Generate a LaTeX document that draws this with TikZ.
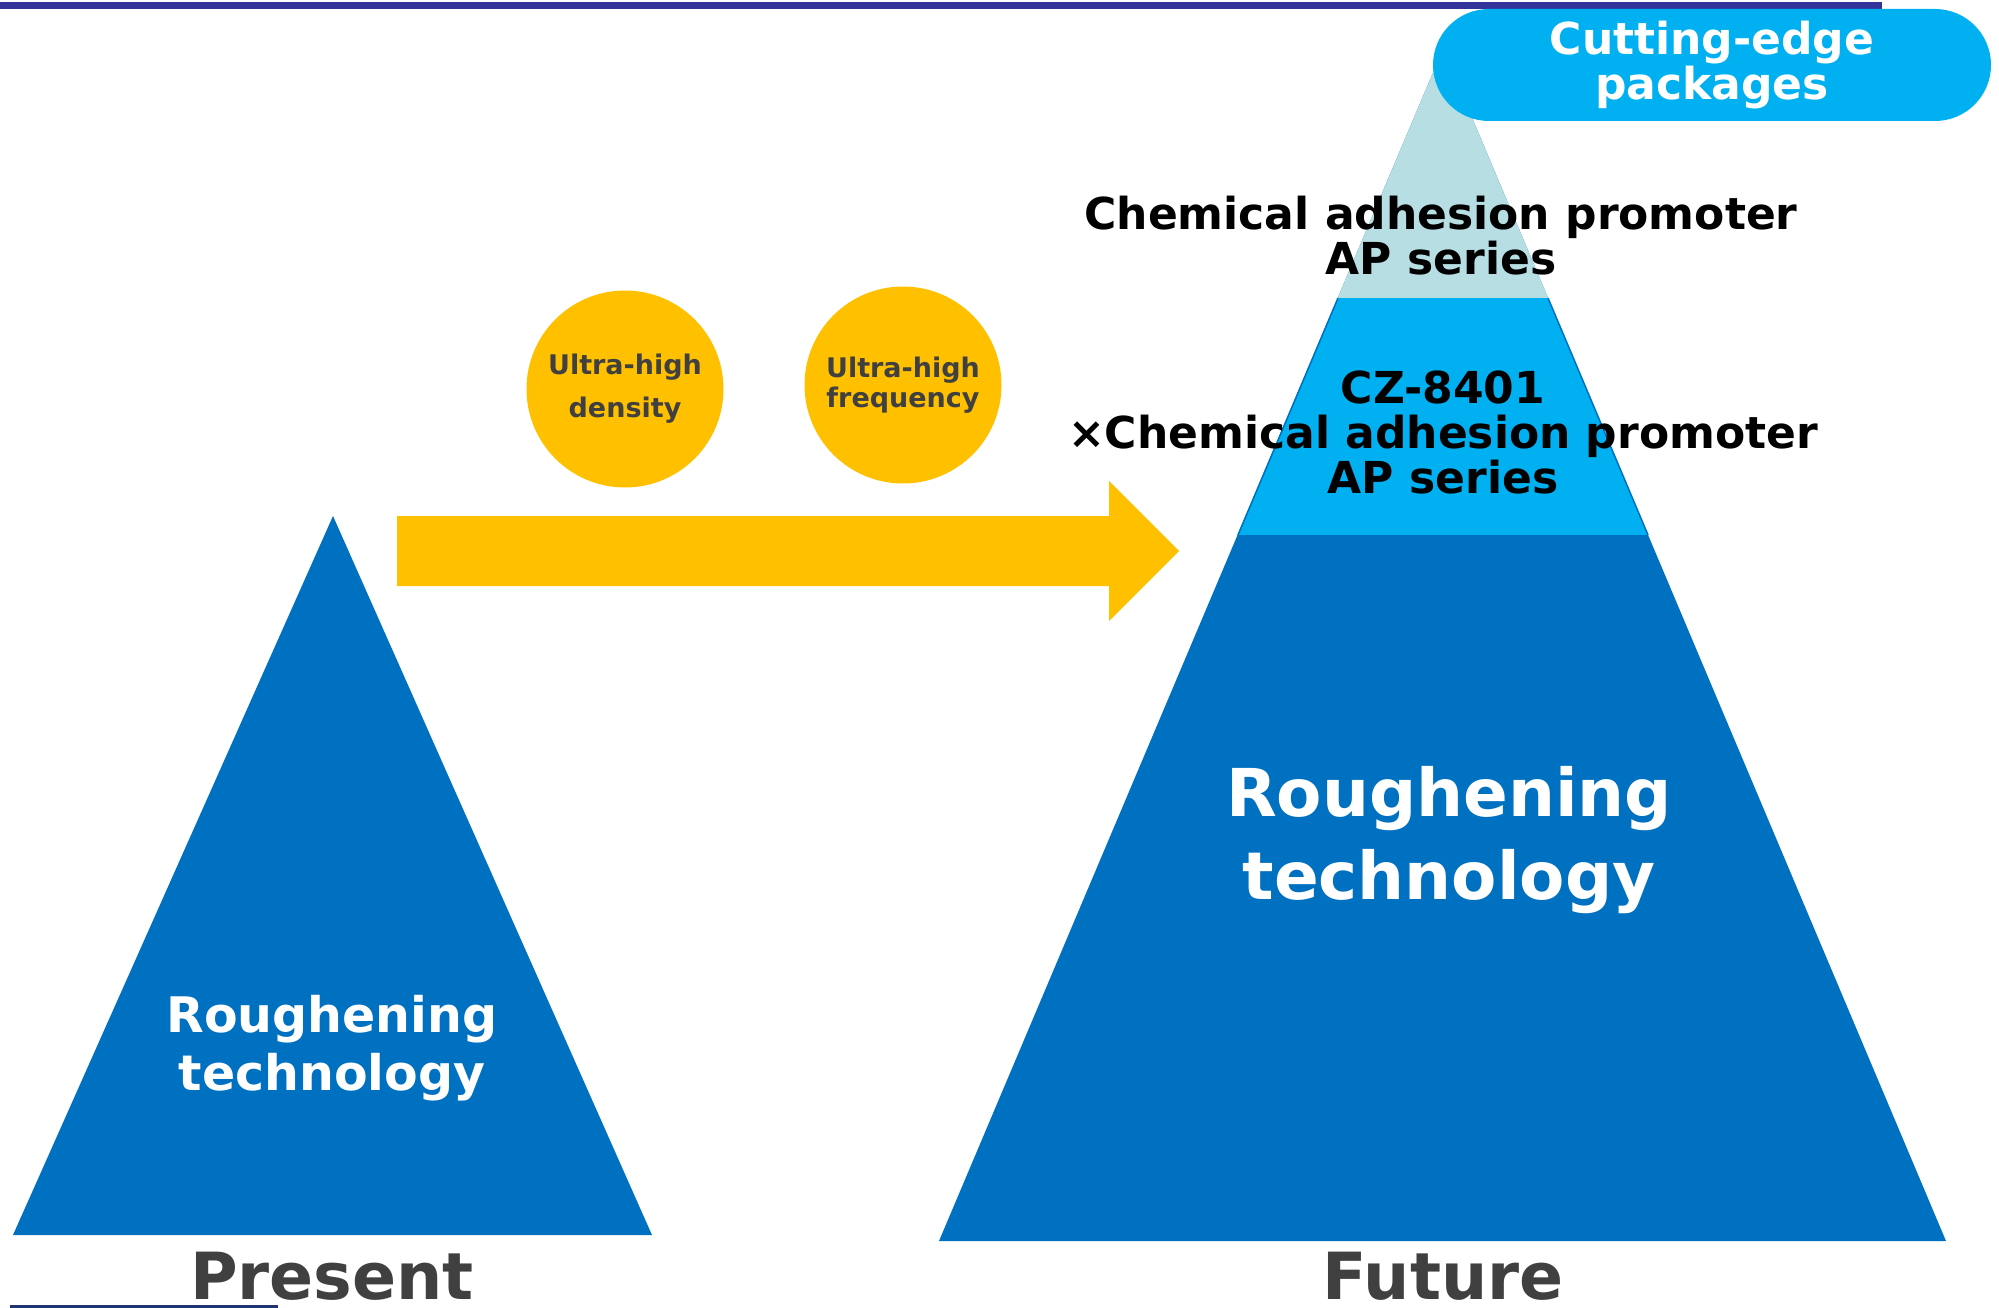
\documentclass[tikz,border=0pt]{standalone}
\usepackage{fontspec}
\setmainfont{DejaVu Sans}
\definecolor{peakblue}{HTML}{0070C0}
\definecolor{peakcyan}{HTML}{00B0F0}
\definecolor{peaklight}{HTML}{B7DEE3}
\definecolor{amber}{HTML}{FFC000}
\definecolor{inkgray}{HTML}{404040}
\definecolor{barblue}{HTML}{333399}
\definecolor{navyline}{HTML}{1F3470}

\begin{document}
\begin{tikzpicture}[
  x=1pt, y=-1pt,
  txt/.style 2 args={font=\bfseries\fontsize{#1}{#2}\selectfont, align=center, inner sep=0pt},
  bubble/.style={circle, fill=amber, minimum size=197pt, inner sep=0pt, text=inkgray},
  tag/.style={fill=peakcyan, rounded corners=56pt, minimum width=558pt, minimum height=112pt, text=white}
]
  \useasboundingbox (0,0) rectangle (1999,1308);

  % header rule
  \fill[barblue] (0,2) rectangle (1882,9);
  \fill[navyline] (10,1305) rectangle (278,1308);

  % present: one plain pyramid
  \fill[peakblue] (13,1235) -- (333,516) -- (652,1235) -- cycle;
  \node[txt={49}{58}, text=white] (nowtech) at (332,1048) {Roughening\\technology};
  \node[txt={65}{70}, text=inkgray, anchor=base] (present) at (332,1299) {Present};

  % future: layered pyramid
  \fill[peakblue] (939,1241) -- (1443,49) -- (1946,1241) -- cycle;
  \begin{scope}
    \clip (939,1241) -- (1443,49) -- (1946,1241) -- cycle;
    \fill[peaklight] (900,0) rectangle (2000,298);
    \fill[peakcyan] (900,298) rectangle (2000,535);
  \end{scope}
  \draw[peakblue, line width=1.5pt] (1338,298) -- (1238,535) (1548,298) -- (1648,535);

  \node[tag, txt={44}{45}] (edge) at (1712,65) {Cutting-edge\\packages};

  \node[txt={44}{45}] (apseries) at (1441,236) {Chemical adhesion promoter\\AP series};
  \node[txt={44}{45}] (czap) at (1443,432) {CZ-8401\\×Chemical adhesion promoter\\AP series};
  \node[txt={66}{83}, text=white] (futtech) at (1449,840) {Roughening\\technology};
  \node[txt={65}{70}, text=inkgray, anchor=base] (future) at (1443,1299) {Future};

  % shift arrow and drivers
  \fill[amber] (397,516) -- (1109,516) -- (1109,481) -- (1179,551)
    -- (1109,621) -- (1109,586) -- (397,586) -- cycle;
  \node[bubble, txt={27}{43}] (density) at (625,389) {Ultra-high\\density};
  \node[bubble, txt={27}{30}] (freq) at (903,385) {Ultra-high\\frequency};
\end{tikzpicture}
\end{document}
